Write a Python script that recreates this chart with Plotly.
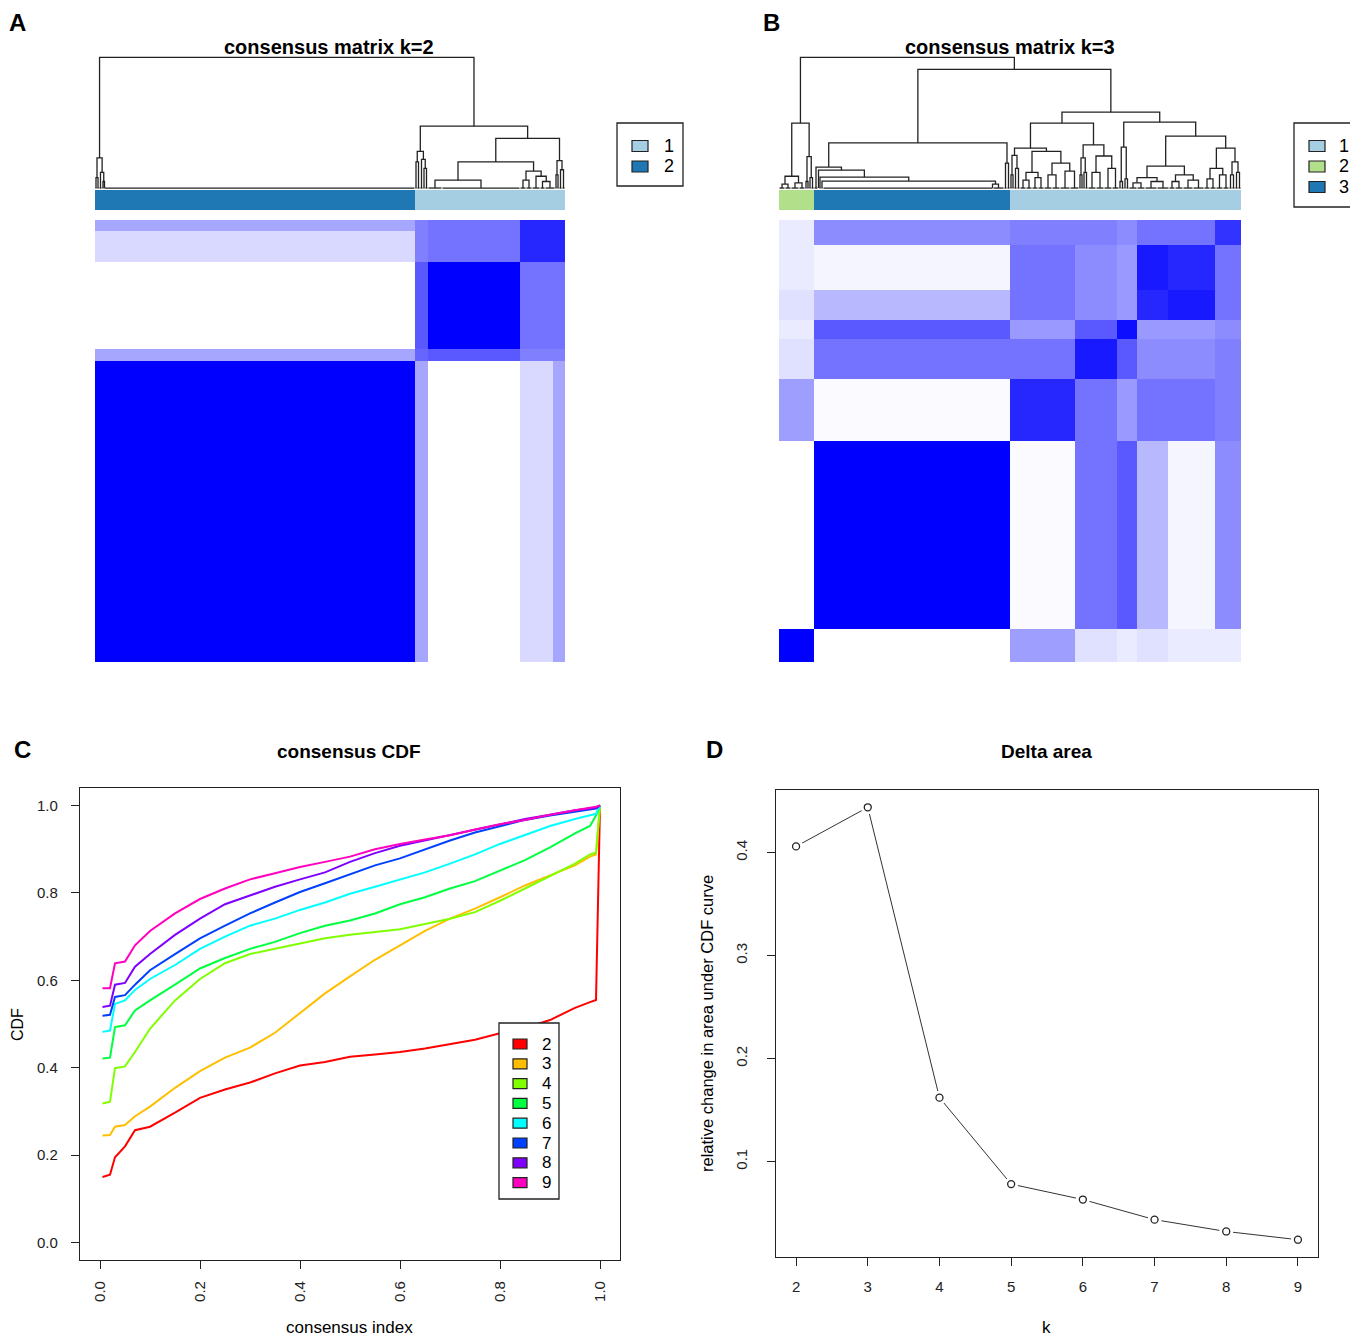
import numpy as np
import plotly.graph_objects as go

W, H = 1358, 1337
PAGE_PAD = 8          # the page body margin shifts the figure; coordinates below are window pixels
FONT = "Liberation Sans, Arial, sans-serif"
INK = "#222222"

# ---- panel A: consensus matrix k=2 ----
A_SEG_SIZES = [320, 13, 92, 33, 12]
A_SEG_Z = [
    [1.00, 0.35, 0.00, 0.15, 0.35],
    [0.35, 0.60, 0.65, 0.50, 0.50],
    [0.00, 0.65, 1.00, 0.55, 0.55],
    [0.15, 0.50, 0.55, 0.85, 0.85],
    [0.35, 0.50, 0.55, 0.85, 0.85],
]
A_BAR_SIZES = [320, 150]
A_BAR_CLUSTER = [2, 1]
A_CLUSTER_COLORS = ["#A6CEE3", "#1F78B4"]          # cluster 1, 2
# dendrogram: (height, left, right); int = flat group of leaves, ("L"/"R", n) chain hanging at one end
A_TREE = (1.0,
          (0.23, (0.08, 2, 2), (0.12, 3, (0.05, 2, ("L", 311)))),
          (0.473,
           (0.28, (0.20, 2, 3), (0.22, 3, (0.15, 2, 3))),
           (0.38,
            (0.20, (0.06, 14, 78), (0.13, (0.06, 6, 6), (0.09, 8, (0.05, 5, 10)))),
            (0.21, (0.10, 2, 2), (0.14, 3, 3)))))

# ---- panel B: consensus matrix k=3 ----
B_SEG_SIZES = [35, 196, 65, 42, 20, 31, 47, 26]
B_SEG_Z = [
    [1.00, 0.00, 0.38, 0.12, 0.08, 0.12, 0.08, 0.08],
    [0.00, 1.00, 0.02, 0.55, 0.65, 0.28, 0.04, 0.45],
    [0.38, 0.02, 0.85, 0.55, 0.40, 0.55, 0.55, 0.50],
    [0.12, 0.55, 0.55, 0.90, 0.65, 0.45, 0.45, 0.50],
    [0.08, 0.65, 0.40, 0.65, 0.95, 0.40, 0.40, 0.45],
    [0.12, 0.28, 0.55, 0.45, 0.40, 0.85, 0.90, 0.55],
    [0.08, 0.04, 0.55, 0.45, 0.40, 0.90, 0.85, 0.55],
    [0.08, 0.45, 0.50, 0.50, 0.45, 0.55, 0.55, 0.80],
]
B_BAR_SIZES = [35, 196, 231]
B_BAR_CLUSTER = [2, 3, 1]
B_CLUSTER_COLORS = ["#A6CEE3", "#B2DF8A", "#1F78B4"]   # cluster 1, 2, 3
B_TREE = (1.0,
          (0.496, (0.09, (0.03, 6, 6), (0.04, 8, 6)), (0.24, (0.05, 2, 2), (0.08, 2, 3))),
          (0.908,
           (0.346,
            (0.16, 4, (0.137, 1, (0.084, 2, (0.053, 2, (0.03, ("R", 170), 11))))),
            (0.19, 3, 3)),
           (0.58,
            (0.496,
             (0.305, (0.25, (0.10, 2, 2), (0.15, 3, 3)),
              (0.28, (0.12, (0.06, 6, 6), (0.08, 6, 6)), (0.19, (0.10, 8, 8), (0.13, 10, 9)))),
             (0.33, (0.23, (0.10, 2, 2), (0.12, 2, 3)), (0.245, (0.12, 8, 8), (0.15, 8, 7)))),
            (0.504,
             (0.313, (0.05, 2, 3), (0.07, 2, 3)),
             (0.397,
              (0.168, (0.08, (0.04, 8, 8), (0.05, 12, 12)), (0.10, (0.05, 6, 8), (0.06, 10, 11))),
              (0.305, (0.15, (0.07, 6, 6), (0.10, 7, 6)), (0.20, (0.10, 3, 3), (0.12, 3, 3))))))))

# ---- panel C: consensus CDF ----
CDF_X = [0.005, 0.02, 0.03, 0.05, 0.07, 0.10, 0.15, 0.20, 0.25, 0.30, 0.35, 0.40, 0.45,
         0.50, 0.55, 0.60, 0.65, 0.70, 0.75, 0.80, 0.85, 0.90, 0.95, 0.98, 0.992, 1.0]
CDF_K = {
    2: [0.150, 0.155, 0.195, 0.220, 0.257, 0.265, 0.297, 0.331, 0.350, 0.366, 0.387, 0.405, 0.413,
        0.425, 0.430, 0.436, 0.444, 0.454, 0.464, 0.479, 0.491, 0.509, 0.537, 0.550, 0.555, 1.0],
    3: [0.245, 0.246, 0.265, 0.269, 0.289, 0.311, 0.354, 0.392, 0.423, 0.446, 0.480, 0.525, 0.570,
        0.609, 0.647, 0.680, 0.713, 0.741, 0.764, 0.790, 0.817, 0.840, 0.863, 0.883, 0.888, 1.0],
    4: [0.318, 0.322, 0.399, 0.403, 0.436, 0.489, 0.554, 0.603, 0.639, 0.660, 0.672, 0.684, 0.696,
        0.704, 0.710, 0.717, 0.729, 0.741, 0.756, 0.782, 0.810, 0.839, 0.867, 0.888, 0.892, 1.0],
    5: [0.421, 0.423, 0.493, 0.497, 0.531, 0.554, 0.590, 0.627, 0.651, 0.672, 0.688, 0.708, 0.725,
        0.737, 0.753, 0.774, 0.790, 0.810, 0.827, 0.851, 0.875, 0.904, 0.936, 0.953, 0.977, 1.0],
    6: [0.482, 0.485, 0.546, 0.554, 0.578, 0.603, 0.635, 0.672, 0.700, 0.725, 0.741, 0.761, 0.778,
        0.798, 0.814, 0.831, 0.847, 0.867, 0.888, 0.912, 0.932, 0.953, 0.969, 0.978, 0.981, 1.0],
    7: [0.519, 0.521, 0.562, 0.566, 0.590, 0.623, 0.660, 0.696, 0.725, 0.753, 0.778, 0.802, 0.822,
        0.843, 0.863, 0.879, 0.900, 0.920, 0.938, 0.953, 0.967, 0.977, 0.985, 0.990, 0.993, 1.0],
    8: [0.539, 0.542, 0.590, 0.594, 0.631, 0.660, 0.704, 0.741, 0.774, 0.794, 0.814, 0.831, 0.847,
        0.871, 0.891, 0.908, 0.920, 0.932, 0.945, 0.957, 0.969, 0.979, 0.989, 0.993, 0.995, 1.0],
    9: [0.582, 0.582, 0.639, 0.643, 0.680, 0.713, 0.753, 0.786, 0.810, 0.831, 0.845, 0.859, 0.871,
        0.883, 0.900, 0.912, 0.922, 0.932, 0.945, 0.957, 0.967, 0.979, 0.989, 0.994, 0.997, 1.0],
}
CDF_COLORS = ["#FF0000", "#FFBF00", "#80FF00", "#00FF40", "#00FFFF", "#0040FF", "#8000FF", "#FF00BF"]

# ---- panel D: delta area ----
DELTA_K = [2, 3, 4, 5, 6, 7, 8, 9]
DELTA_Y = [0.406, 0.444, 0.162, 0.078, 0.063, 0.0435, 0.032, 0.024]


def px_x(p):
    return (p - PAGE_PAD) / W


def px_y(p):
    return 1 - (p - PAGE_PAD) / H


def dom_x(p0, p1):
    return [px_x(p0), px_x(p1)]


def dom_y(top, bottom):
    return [px_y(bottom), px_y(top)]


def tree_lines(node, start, xs, ys):
    # flat leaf groups
    if isinstance(node, int) or isinstance(node[0], str):
        kind, n = ("C", node) if isinstance(node, int) else node
        x0, x1 = start + 0.5, start + n - 0.5
        if n > 1:
            xs += [x0, x1, None]
            ys += [0, 0, None]
        pos = {"C": (x0 + x1) / 2, "L": x0, "R": x1}[kind]
        return pos, 0.0, start + n
    h, left, right = node
    xl, hl, mid = tree_lines(left, start, xs, ys)
    xr, hr, end = tree_lines(right, mid, xs, ys)
    xs += [xl, xl, xr, xr, None]
    ys += [hl, h, h, hr, None]
    return (xl + xr) / 2, h, end


def edges(sizes):
    return np.concatenate([[0], np.cumsum(sizes)]).tolist()


def step_scale(colors):
    k = len(colors)
    out = []
    for i, c in enumerate(colors):
        out += [[i / k, c], [(i + 1) / k, c]]
    return out


fig = go.Figure()


def consensus_panel(ax, tree, seg_sizes, seg_z, bar_sizes, bar_cluster, colors):
    xa, xb, xc = ax
    xs, ys = [], []
    tree_lines(tree, 0, xs, ys)
    fig.add_trace(go.Scatter(x=xs, y=ys, mode="lines", line=dict(color=INK, width=1.3),
                             hoverinfo="skip", showlegend=False, xaxis="x" + xa, yaxis="y" + xa))
    fig.add_trace(go.Heatmap(z=[bar_cluster], x=edges(bar_sizes), y=[0, 1],
                             zmin=0.5, zmax=len(colors) + 0.5, colorscale=step_scale(colors),
                             showscale=False, xaxis="x" + xb, yaxis="y" + xb))
    e = edges(seg_sizes)
    fig.add_trace(go.Heatmap(z=seg_z, x=e, y=e, zmin=0, zmax=1,
                             colorscale=[[0, "#FFFFFF"], [1, "#0000FF"]],
                             showscale=False, xaxis="x" + xc, yaxis="y" + xc))


consensus_panel(("", "2", "3"), A_TREE, A_SEG_SIZES, A_SEG_Z, A_BAR_SIZES, A_BAR_CLUSTER, A_CLUSTER_COLORS)
consensus_panel(("4", "5", "6"), B_TREE, B_SEG_SIZES, B_SEG_Z, B_BAR_SIZES, B_BAR_CLUSTER, B_CLUSTER_COLORS)

# CDF curves
for (k, vals), col in zip(CDF_K.items(), CDF_COLORS):
    fig.add_trace(go.Scatter(x=CDF_X, y=vals, mode="lines", line=dict(color=col, width=2),
                             showlegend=False, xaxis="x7", yaxis="y7"))

# delta area (R type="b": line broken around each point)
fig.add_trace(go.Scatter(x=DELTA_K, y=DELTA_Y, mode="lines", line=dict(color="#333333", width=1),
                         showlegend=False, xaxis="x8", yaxis="y8"))
fig.add_trace(go.Scatter(x=DELTA_K, y=DELTA_Y, mode="markers", marker=dict(color="white", size=14),
                         showlegend=False, xaxis="x8", yaxis="y8", hoverinfo="skip"))
fig.add_trace(go.Scatter(x=DELTA_K, y=DELTA_Y, mode="markers",
                         marker=dict(symbol="circle-open", color=INK, size=7, line=dict(width=1.3)),
                         showlegend=False, xaxis="x8", yaxis="y8"))

hidden = dict(visible=False, fixedrange=True)
lay = {}
# A
lay["xaxis"] = dict(domain=dom_x(95, 565), range=[0, 470], anchor="y", **hidden)
lay["yaxis"] = dict(domain=dom_y(56, 190), range=[-0.015, 1.01], anchor="x", **hidden)
lay["xaxis2"] = dict(domain=dom_x(95, 565), range=[0, 470], anchor="y2", **hidden)
lay["yaxis2"] = dict(domain=dom_y(190, 210), range=[0, 1], anchor="x2", **hidden)
lay["xaxis3"] = dict(domain=dom_x(95, 565), range=[0, 470], anchor="y3", **hidden)
lay["yaxis3"] = dict(domain=dom_y(220, 662), range=[0, 470], anchor="x3", **hidden)
# B
lay["xaxis4"] = dict(domain=dom_x(779, 1241), range=[0, 462], anchor="y4", **hidden)
lay["yaxis4"] = dict(domain=dom_y(56, 190), range=[-0.015, 1.01], anchor="x4", **hidden)
lay["xaxis5"] = dict(domain=dom_x(779, 1241), range=[0, 462], anchor="y5", **hidden)
lay["yaxis5"] = dict(domain=dom_y(190, 210), range=[0, 1], anchor="x5", **hidden)
lay["xaxis6"] = dict(domain=dom_x(779, 1241), range=[0, 462], anchor="y6", **hidden)
lay["yaxis6"] = dict(domain=dom_y(220, 662), range=[0, 462], anchor="x6", **hidden)

box = dict(showline=True, mirror=True, linecolor=INK, linewidth=1.2, showgrid=False,
           zeroline=False, ticks="outside", ticklen=8, tickcolor=INK, tickwidth=1.2,
           tickfont=dict(family=FONT, size=15, color=INK), fixedrange=True)
ticks01 = [0, 0.2, 0.4, 0.6, 0.8, 1.0]
lay["xaxis7"] = dict(domain=dom_x(80, 620), range=[-0.04, 1.04], tickvals=ticks01, anchor="y7",
                     ticktext=["%.1f" % v for v in ticks01], tickangle=-90, ticklabelstandoff=6, **box)
lay["yaxis7"] = dict(domain=dom_y(788, 1260), range=[-0.04, 1.04], tickvals=ticks01, anchor="x7",
                     ticktext=["%.1f" % v for v in ticks01], ticklabelstandoff=10, **box)
lay["xaxis8"] = dict(domain=dom_x(776, 1318), range=[1.72, 9.28], tickvals=DELTA_K, anchor="y8",
                     ticktext=[str(k) for k in DELTA_K], ticklabelstandoff=8, **box)
lay["yaxis8"] = dict(domain=dom_y(790, 1257), range=[0.0072, 0.4608], tickvals=[0.1, 0.2, 0.3, 0.4],
                     anchor="x8", ticktext=["0.1", "0.2", "0.3", "0.4"], tickangle=-90,
                     ticklabelstandoff=14, **box)


def note(text, px, py, size, bold=False, angle=0):
    return dict(text="<b>%s</b>" % text if bold else text, x=px_x(px), y=px_y(py),
                xref="paper", yref="paper", showarrow=False, textangle=angle,
                font=dict(family=FONT, size=size, color="black"), xanchor="center", yanchor="middle")


shapes = []
annotations = []


def legend_box(labels, colors, box_px, sq_x, text_x, row0, step, sq_h, size):
    x0, y0, x1, y1 = box_px
    shapes.append(dict(type="rect", xref="paper", yref="paper", x0=px_x(x0), x1=px_x(x1),
                       y0=px_y(y1), y1=px_y(y0), line=dict(color=INK, width=1.3),
                       fillcolor="white"))
    for i, (lab, col) in enumerate(zip(labels, colors)):
        yc = row0 + i * step
        shapes.append(dict(type="rect", xref="paper", yref="paper", x0=px_x(sq_x[0]), x1=px_x(sq_x[1]),
                           y0=px_y(yc + sq_h / 2), y1=px_y(yc - sq_h / 2),
                           line=dict(color=INK, width=1.2), fillcolor=col))
        annotations.append(note(lab, text_x, yc, size))


legend_box([str(i + 1) for i in range(len(A_CLUSTER_COLORS))], A_CLUSTER_COLORS,
           (617, 123, 683, 186), (632, 648), 669, 146, 20.5, 11, 18)
legend_box([str(i + 1) for i in range(len(B_CLUSTER_COLORS))], B_CLUSTER_COLORS,
           (1294, 123, 1357, 207), (1309, 1325), 1344, 146, 20.5, 11, 18)
legend_box([str(k) for k in CDF_K], CDF_COLORS,
           (499, 1023, 559, 1199), (513, 527), 546, 1044, 19.8, 10, 17)

annotations += [
    note("A", 17, 23, 24, True), note("B", 771, 23, 24, True),
    note("C", 22, 749, 24, True), note("D", 714, 749, 24, True),
    note("consensus matrix k=2", 329, 47, 20, True),
    note("consensus matrix k=3", 1010, 47, 20, True),
    note("consensus CDF", 349, 751, 19, True),
    note("Delta area", 1046, 751, 19, True),
    note("consensus index", 349, 1327, 17),
    note("k", 1046, 1327, 17),
    note("CDF", 17, 1025, 16, angle=-90),
    note("relative change in area under CDF curve", 707, 1023, 16.5, angle=-90),
]

fig.update_layout(width=W, height=H, margin=dict(l=0, r=0, t=0, b=0),
                  paper_bgcolor="white", plot_bgcolor="white", showlegend=False,
                  font=dict(family=FONT, color=INK), annotations=annotations, shapes=shapes, **lay)

fig.write_html("out.html")
